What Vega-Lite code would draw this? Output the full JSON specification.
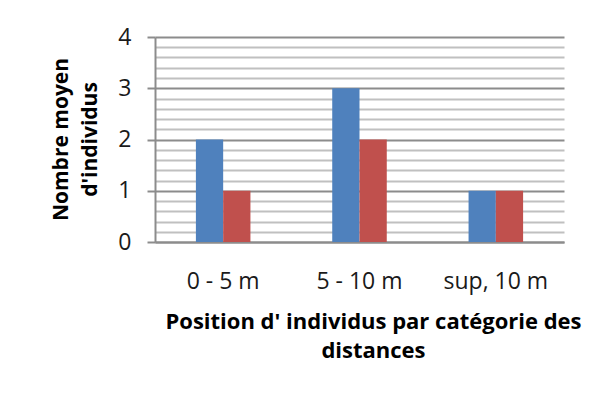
{
  "$schema": "https://vega.github.io/schema/vega-lite/v6.json",
  "autosize": {"type": "none"},
  "width": 409,
  "height": 205,
  "padding": {"left": 155, "top": 37, "right": 27, "bottom": 165},
  "background": "#ffffff",
  "config": {
    "font": "Open Sans",
    "view": {"stroke": null},
    "axis": {
      "labelFont": "Open Sans",
      "titleFont": "Open Sans",
      "labelColor": "#1a1a1a",
      "titleColor": "#000000",
      "domainColor": "#8c8c8c",
      "domainWidth": 2,
      "tickColor": "#8c8c8c",
      "tickWidth": 2
    }
  },
  "data": {
    "values": [
      {"distance": "0 - 5 m", "serie": "Série 1", "nombre": 2},
      {"distance": "0 - 5 m", "serie": "Série 2", "nombre": 1},
      {"distance": "5 - 10 m", "serie": "Série 1", "nombre": 3},
      {"distance": "5 - 10 m", "serie": "Série 2", "nombre": 2},
      {"distance": "sup, 10 m", "serie": "Série 1", "nombre": 1},
      {"distance": "sup, 10 m", "serie": "Série 2", "nombre": 1}
    ]
  },
  "mark": {"type": "bar"},
  "encoding": {
    "x": {
      "field": "distance",
      "type": "nominal",
      "sort": ["0 - 5 m", "5 - 10 m", "sup, 10 m"],
      "scale": {"paddingInner": 0.6, "paddingOuter": 0.3},
      "axis": {
        "title": ["Position d' individus par catégorie des", "distances"],
        "titleFontSize": 22,
        "titleFontWeight": "bold",
        "titleLineHeight": 29,
        "titleBaseline": "alphabetic",
        "titleAlign": "center",
        "titleAnchor": "start",
        "titleX": 218,
        "titleY": 86,
        "labelAngle": 0,
        "labelFontSize": 23,
        "labelBaseline": "alphabetic",
        "labelPadding": 46,
        "ticks": false,
        "tickSize": 0,
        "grid": false
      }
    },
    "xOffset": {
      "field": "serie",
      "type": "nominal",
      "scale": {"paddingInner": 0, "paddingOuter": 0}
    },
    "y": {
      "field": "nombre",
      "type": "quantitative",
      "scale": {"domain": [0, 4], "nice": false},
      "axis": {
        "title": ["Nombre moyen", "d'individus"],
        "titleFontSize": 21,
        "titleFontWeight": "bold",
        "titleLineHeight": 29,
        "titleBaseline": "alphabetic",
        "titleAlign": "center",
        "titleAngle": -90,
        "titleX": -88,
        "titleY": 102,
        "values": [0, 0.2, 0.4, 0.6, 0.8, 1, 1.2, 1.4, 1.6, 1.8, 2, 2.2, 2.4, 2.6, 2.8, 3, 3.2, 3.4, 3.6, 3.8, 4],
        "labelExpr": "datum.value % 1 === 0 ? format(datum.value, 'd') : ''",
        "labelFontSize": 23,
        "labelPadding": 16,
        "tickSize": 8,
        "tickOpacity": {"condition": {"test": "datum.value % 1 === 0", "value": 1}, "value": 0},
        "grid": true,
        "gridColor": {"condition": {"test": "datum.value % 1 === 0", "value": "#8c8c8c"}, "value": "#c0c0c0"},
        "gridWidth": 2
      }
    },
    "color": {
      "field": "serie",
      "type": "nominal",
      "scale": {"range": ["#4f81bd", "#c0504d"]},
      "legend": null
    }
  }
}
